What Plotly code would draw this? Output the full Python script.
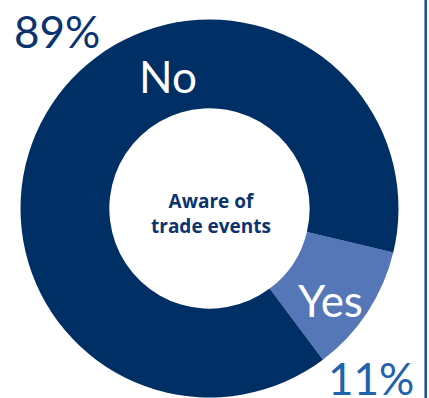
import plotly.graph_objects as go

labels = ["Yes", "No"]
values = [11, 89]
pct_text = ["11%", "89%"]
colors = ["#5577B8", "#002F65"]
center_title = "Aware of<br>trade events"

W, H = 429, 398

fig = go.Figure()
fig.add_trace(go.Pie(
    labels=labels,
    values=values,
    hole=0.53,
    sort=False,
    direction="clockwise",
    rotation=103.5,
    marker=dict(colors=colors, line=dict(width=0)),
    textinfo="none",
    hoverinfo="label+percent",
    domain=dict(x=[20.5 / W, 398.5 / W], y=[0.5 / H, 378.5 / H]),
    showlegend=False,
))

font_family = "Lato, 'Open Sans', sans-serif"
ann = []
# slice labels (white, inside)
ann.append(dict(x=168 / W, y=1 - 76 / H, text=labels[1], showarrow=False,
                font=dict(family=font_family, size=44, color="white"),
                xanchor="center", yanchor="middle"))
ann.append(dict(x=330 / W, y=1 - 300 / H, text=labels[0], showarrow=False,
                font=dict(family=font_family, size=44, color="white"),
                xanchor="center", yanchor="middle"))
# percentages
ann.append(dict(x=57 / W, y=1 - 31 / H, text=pct_text[1], showarrow=False,
                font=dict(family=font_family, size=44, color="#0B3370"),
                xanchor="center", yanchor="middle"))
ann.append(dict(x=371 / W, y=1 - 378 / H, text=pct_text[0], showarrow=False,
                font=dict(family=font_family, size=44, color="#1F63AD"),
                xanchor="center", yanchor="middle"))
# center title
ann.append(dict(x=211 / W, y=1 - 213 / H, text="<b>" + center_title + "</b>", showarrow=False,
                font=dict(family="'Open Sans', sans-serif", size=19, color="#0B3370"),
                xanchor="center", yanchor="middle"))

fig.update_layout(
    width=W, height=H,
    margin=dict(l=0, r=0, t=0, b=0),
    paper_bgcolor="white",
    plot_bgcolor="white",
    annotations=ann,
    shapes=[dict(type="line", xref="paper", yref="paper",
                 x0=425.7 / W, x1=425.7 / W, y0=0, y1=1,
                 line=dict(color="#1F4A8A", width=2.5))],
)

fig.write_html("out.html")
